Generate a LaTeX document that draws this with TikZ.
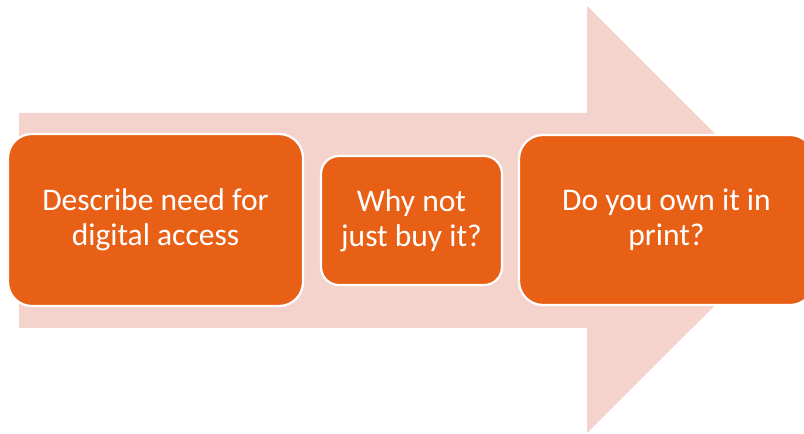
\documentclass[tikz,border=0pt]{standalone}
\usepackage{fontspec}
\setmainfont{Carlito}
\definecolor{pinkarrow}{HTML}{F5D3CD}
\definecolor{orangebox}{HTML}{E86015}
\begin{document}
\begin{tikzpicture}[x=1pt,y=1pt,
  stepbox/.style={draw=white,line width=2.2pt,fill=orangebox,rounded corners=24pt,
    text=white,align=center,font=\fontsize{31.5}{35}\selectfont,inner sep=0pt}]
\useasboundingbox (0,0) rectangle (804,434);
\clip (0,0) rectangle (804,434);
\fill[pinkarrow] (19,321) -- (587,321) -- (587,428) -- (801,214.5) -- (587,1) -- (587,106) -- (19,106) -- cycle;
\node[stepbox,minimum width=295pt,minimum height=172pt] (a) at (155.5,214) {Describe need for\\digital access};
\node[stepbox,minimum width=181pt,minimum height=129pt,rounded corners=18pt] (b) at (411.5,213.5) {Why not\\just buy it?};
\node[stepbox,minimum width=295pt,minimum height=170pt] (c) at (666.5,214) {Do you own it in\\print?};
\end{tikzpicture}
\end{document}
